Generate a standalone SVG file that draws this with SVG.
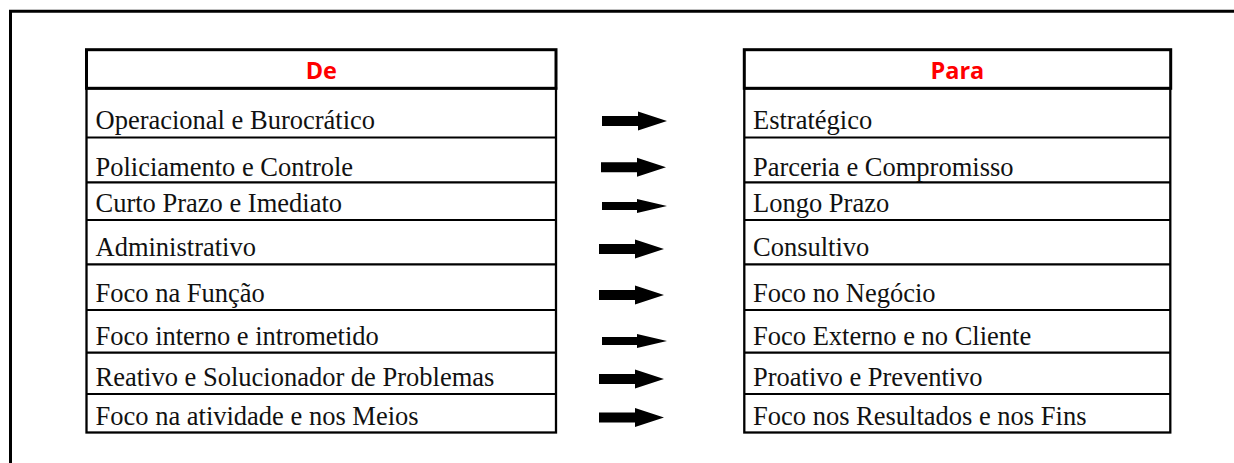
<svg xmlns="http://www.w3.org/2000/svg" width="1234" height="463" viewBox="0 0 1234 463">
  <style>
    .frame{fill:none;stroke:#000;stroke-width:3}
    .head{fill:#fff;stroke:#000;stroke-width:3}
    .body{fill:#fff;stroke:#000;stroke-width:2.3}
    .rule{stroke:#000;stroke-width:2.2}
    .ht{font-family:"Open Sans","Liberation Sans",sans-serif;font-weight:700;font-size:23.5px;fill:#ff0000;text-anchor:middle}
    .t{font-family:"Liberation Serif","Times New Roman",serif;font-size:26.5px;fill:#111}
    .arr{fill:#000}
  </style>
  <defs>
    <path id="arrow" d="M0,-5 H36 V-9.5 L65,0 L36,9.5 V5 H0 Z"/>
    <path id="arrowThin" d="M0,-4 H35 V-7 L65,0 L35,7 V4 H0 Z"/>
  </defs>
  <rect width="1234" height="463" fill="#fff"/>
  <path class="frame" d="M10.5,463 V11.3 H1234"/>

  <g id="table-de">
    <rect class="body" x="86.5" y="88.3" width="469.5" height="344.2"/>
    <g>
      <line class="rule" x1="86.5" y1="137.5" x2="556" y2="137.5"/>
      <line class="rule" x1="86.5" y1="182.3" x2="556" y2="182.3"/>
      <line class="rule" x1="86.5" y1="220" x2="556" y2="220"/>
      <line class="rule" x1="86.5" y1="264.3" x2="556" y2="264.3"/>
      <line class="rule" x1="86.5" y1="310" x2="556" y2="310"/>
      <line class="rule" x1="86.5" y1="352.7" x2="556" y2="352.7"/>
      <line class="rule" x1="86.5" y1="394" x2="556" y2="394"/>
    </g>
    <g id="de-header">
      <rect class="head" x="86.5" y="49.7" width="469.5" height="38.6"/>
      <text class="ht" x="321.3" y="79">De</text>
    </g>
    <g id="de-1"><text class="t" x="95.5" y="129.3">Operacional e Burocrático</text></g>
    <g id="de-2"><text class="t" x="95.5" y="175.5">Policiamento e Controle</text></g>
    <g id="de-3"><text class="t" x="95.5" y="212.3">Curto Prazo e Imediato</text></g>
    <g id="de-4"><text class="t" x="95.5" y="256.3">Administrativo</text></g>
    <g id="de-5"><text class="t" x="95.5" y="302">Foco na Função</text></g>
    <g id="de-6"><text class="t" x="95.5" y="344.5">Foco interno e intrometido</text></g>
    <g id="de-7"><text class="t" x="95.5" y="386.3">Reativo e Solucionador de Problemas</text></g>
    <g id="de-8"><text class="t" x="95.5" y="424.7">Foco na atividade e nos Meios</text></g>
  </g>

  <g id="table-para">
    <rect class="body" x="744.3" y="88.3" width="426" height="344.2"/>
    <g>
      <line class="rule" x1="744.3" y1="137.5" x2="1170.3" y2="137.5"/>
      <line class="rule" x1="744.3" y1="182.3" x2="1170.3" y2="182.3"/>
      <line class="rule" x1="744.3" y1="220" x2="1170.3" y2="220"/>
      <line class="rule" x1="744.3" y1="264.3" x2="1170.3" y2="264.3"/>
      <line class="rule" x1="744.3" y1="310" x2="1170.3" y2="310"/>
      <line class="rule" x1="744.3" y1="352.7" x2="1170.3" y2="352.7"/>
      <line class="rule" x1="744.3" y1="394" x2="1170.3" y2="394"/>
    </g>
    <g id="para-header">
      <rect class="head" x="744.3" y="49.7" width="426.4" height="38.6"/>
      <text class="ht" x="957.4" y="79">Para</text>
    </g>
    <g id="para-1"><text class="t" x="753" y="129.3">Estratégico</text></g>
    <g id="para-2"><text class="t" x="753" y="175.5">Parceria e Compromisso</text></g>
    <g id="para-3"><text class="t" x="753" y="212.3">Longo Prazo</text></g>
    <g id="para-4"><text class="t" x="753" y="256.3">Consultivo</text></g>
    <g id="para-5"><text class="t" x="753" y="302">Foco no Negócio</text></g>
    <g id="para-6"><text class="t" x="753" y="344.5">Foco Externo e no Cliente</text></g>
    <g id="para-7"><text class="t" x="753" y="386.3">Proativo e Preventivo</text></g>
    <g id="para-8"><text class="t" x="753" y="424.7">Foco nos Resultados e nos Fins</text></g>
  </g>

  <g id="connectors" class="arr">
    <use href="#arrow" x="602" y="121"/>
    <use href="#arrow" x="601" y="167.3"/>
    <use href="#arrowThin" x="602" y="206"/>
    <use href="#arrow" x="599" y="249"/>
    <use href="#arrow" x="599" y="295"/>
    <use href="#arrowThin" x="602" y="341"/>
    <use href="#arrow" x="599" y="379"/>
    <use href="#arrow" x="599" y="417.5"/>
  </g>
</svg>
